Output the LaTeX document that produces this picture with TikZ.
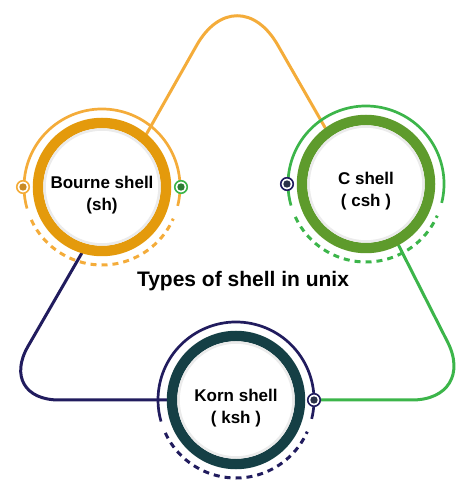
\documentclass[tikz,border=0pt]{standalone}
\usepackage{fontspec}
\setmainfont{Liberation Sans}
\usetikzlibrary{positioning}
\pgfdeclarelayer{background}
\pgfsetlayers{background,main}

\definecolor{bourneline}{HTML}{F4AC3A}
\definecolor{bournering}{HTML}{E49A0C}
\definecolor{bournefill}{HTML}{C98A25}
\definecolor{cline}{HTML}{3CB54A}
\definecolor{cring}{HTML}{5E9B2C}
\definecolor{cfill}{HTML}{2C7D34}
\definecolor{kline}{HTML}{211C5E}
\definecolor{kring}{HTML}{153F45}
\definecolor{kfill}{HTML}{2B3148}

\tikzset{
  shellring/.style={circle, draw=#1, line width=10.5pt, fill=white,
    minimum size=128pt, inner sep=0pt},
  shelltext/.style={font=\fontsize{17}{22}\selectfont\bfseries, align=center},
  titletext/.style={font=\fontsize{21}{25}\selectfont\bfseries},
  conn/.style={line width=3pt, line cap=round},
  thinarc/.style={line width=2.7pt},
  dasharc/.style={line width=3pt, dash pattern=on 6pt off 5pt},
  ringdot/.style 2 args={circle, draw=#1, line width=1.6pt, fill=white,
    minimum size=12.5pt, inner sep=0pt,
    path picture={\fill[#2] (path picture bounding box.center) circle[radius=3.7pt];}},
}

\begin{document}
\begin{tikzpicture}[x=1pt, y=1pt]
  \useasboundingbox (0,0) rectangle (471,490);

  % shells
  \node[shellring=bournering] (bsh) at (102,303) {};
  \node[shellring=cring] (csh) at (366,306) {};
  \node[shellring=kring] (ksh) at (236,90) {};

  \node[shelltext] (bshtxt) at ([yshift=-8pt]bsh.center) {Bourne shell\\(sh)};
  \node[shelltext] (cshtxt) at ([yshift=-7pt]csh.center) {C shell\\( csh )};
  \node[shelltext] (kshtxt) at ([yshift=-8pt]ksh.center) {Korn shell\\( ksh )};

  \node[titletext, anchor=base] (title) at (243,203) {Types of shell in unix};

  % corners of the frame
  \coordinate (apex) at (237,516);
  \coordinate (bl) at (-3,90);
  \coordinate (br) at (477,90);

  % arcs round each shell
  \foreach \s/\col in {bsh/bourneline, csh/cline, ksh/kline}{
    \draw[thinarc, \col] (\s.center) ++(-14:78) arc[start angle=-14, end angle=196, radius=78];
    \draw[dasharc, \col] (\s.center) ++(205:78) arc[start angle=205, end angle=336, radius=78];
    \draw[black!8, line width=2.5pt] (\s.center) circle[radius=57.5];
  }

  % dots
  \node[ringdot={bourneline}{bournefill}] (bdotl) at ([xshift=-79pt]bsh.center) {};
  \node[ringdot={cline}{cfill}] (bdotr) at ([xshift=79pt]bsh.center) {};
  \node[ringdot={kline}{kfill}] (cdot) at ([xshift=-79pt]csh.center) {};
  \node[ringdot={kline}{kfill}] (kdot) at ([xshift=78pt]ksh.center) {};

  \begin{pgfonlayer}{background}
    \draw[conn, bourneline, rounded corners=82pt] (bsh.50) -- (apex) -- (csh.126);
    \draw[conn, cline, rounded corners=65pt] (kdot) -- (br) -- (csh.-62);
    \draw[conn, kline, rounded corners=62pt] (bsh.-107) -- (bl) -- (ksh.180);
  \end{pgfonlayer}
\end{tikzpicture}
\end{document}
